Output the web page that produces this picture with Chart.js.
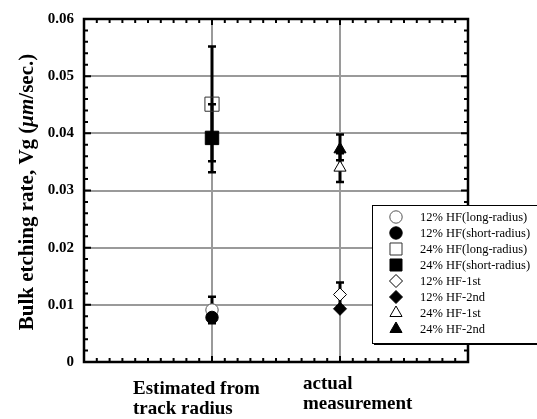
<!DOCTYPE html>
<html>
<head>
<meta charset="utf-8">
<script src="https://cdn.jsdelivr.net/npm/chart.js@4/dist/chart.umd.min.js"></script>
<style>
html,body{margin:0;padding:0;background:#fff;}
#wrap{width:537px;height:419px;position:relative;}
</style>
</head>
<body>
<div id="wrap"><canvas id="c" width="537" height="419"></canvas></div>
<script>
// ---- data ----
const categoryLabels = [['Estimated from', 'track radius'], ['actual', 'measurement']];
const categoryPositions = [1, 2];
const seriesLabels = [
  '12% HF(long-radius)', '12% HF(short-radius)', '24% HF(long-radius)', '24% HF(short-radius)',
  '12% HF-1st', '12% HF-2nd', '24% HF-1st', '24% HF-2nd'
];
// values per category [estimated, actual]
const hf12LongRadius  = [0.0091, null];
const hf12ShortRadius = [0.0078, null];
const hf24LongRadius  = [0.0451, null];
const hf24ShortRadius = [0.0392, null];
const hf12First  = [null, 0.0118];
const hf12Second = [null, 0.0093];
const hf24First  = [null, 0.0340];
const hf24Second = [null, 0.0372];
const seriesValues = [hf12LongRadius, hf12ShortRadius, hf24LongRadius, hf24ShortRadius,
                      hf12First, hf12Second, hf24First, hf24Second];
const errorPlus  = [0.0023, 0, 0.0101, 0.0059, 0.0021, 0, 0.0025, 0.0026];
const errorMinus = [0.0023, 0, 0.0100, 0.0060, 0.0021, 0, 0.0025, 0.0019];
const yTickLabels = ['0', '0.01', '0.02', '0.03', '0.04', '0.05', '0.06'];
const yAxisTitle = ['Bulk etching rate, Vg (', 'μm', '/sec.)'];

// ---- styles ----
const SERIF = "'Liberation Serif','Times New Roman',serif";
const markerStyles = [
  {style: 'circle', fill: '#fff', stroke: '#555', r: 6.2, order: 1},
  {style: 'circle', fill: '#000', stroke: '#000', r: 6.2, order: 0},
  {style: 'rect', fill: 'rgba(0,0,0,0)', stroke: '#333', r: 10, order: 0},
  {style: 'rect', fill: '#000', stroke: '#000', r: 9.5, order: 0},
  {style: 'rectRot', fill: '#fff', stroke: '#000', r: 6.5, order: 0},
  {style: 'rectRot', fill: '#000', stroke: '#000', r: 6.5, order: 0},
  {style: 'triangle', fill: '#fff', stroke: '#000', r: 7, order: 0},
  {style: 'triangle', fill: '#000', stroke: '#000', r: 7, order: 0}
];

const datasets = seriesLabels.map((label, s) => {
  const pts = [], ep = [], em = [];
  categoryPositions.forEach((x, i) => {
    const v = seriesValues[s][i];
    if (v !== null) { pts.push({x: x, y: v}); ep.push(errorPlus[s]); em.push(errorMinus[s]); }
  });
  const st = markerStyles[s];
  return {
    label: label, data: pts, errPlus: ep, errMinus: em,
    pointStyle: st.style, pointRadius: st.r, pointHoverRadius: st.r,
    backgroundColor: st.fill, borderColor: st.stroke, borderWidth: 1,
    showLine: false, order: st.order
  };
});

const isInner = (v, max) => v > 1e-9 && v < max - 1e-9;

const errorBarPlugin = {
  id: 'errorBars',
  beforeDatasetsDraw(chart) {
    const ctx = chart.ctx, ys = chart.scales.y, xs = chart.scales.x;
    ctx.save();
    ctx.strokeStyle = '#000';
    chart.data.datasets.forEach((ds) => {
      ds.data.forEach((p, j) => {
        const up = ds.errPlus[j], dn = ds.errMinus[j];
        if (!up && !dn) return;
        const px = xs.getPixelForValue(p.x);
        const y1 = ys.getPixelForValue(p.y + up), y2 = ys.getPixelForValue(p.y - dn);
        ctx.lineWidth = 3;
        ctx.beginPath(); ctx.moveTo(px, y1); ctx.lineTo(px, y2); ctx.stroke();
        ctx.lineWidth = 2.5;
        ctx.beginPath();
        ctx.moveTo(px - 4, y1); ctx.lineTo(px + 4, y1);
        ctx.moveTo(px - 4, y2); ctx.lineTo(px + 4, y2);
        ctx.stroke();
      });
    });
    ctx.restore();
  }
};

const framePlugin = {
  id: 'frame',
  afterDraw(chart) {
    const ctx = chart.ctx, a = chart.chartArea, xs = chart.scales.x, ys = chart.scales.y;
    ctx.save();
    ctx.strokeStyle = '#000';
    // minor/major inward ticks
    ctx.lineWidth = 2;
    ctx.beginPath();
    for (let i = 0; i <= 30; i++) {
      const px = xs.getPixelForValue(i * 0.1);
      const len = (i % 10 === 0) ? 6 : 4;
      ctx.moveTo(px, a.top); ctx.lineTo(px, a.top + len);
      ctx.moveTo(px, a.bottom); ctx.lineTo(px, a.bottom - len);
    }
    for (let i = 0; i <= 30; i++) {
      const py = ys.getPixelForValue(i * 0.002);
      const len = (i % 5 === 0) ? 7 : 4;
      ctx.moveTo(a.left, py); ctx.lineTo(a.left + len, py);
      ctx.moveTo(a.right, py); ctx.lineTo(a.right - len, py);
    }
    ctx.stroke();
    // frame
    ctx.lineWidth = 2.5;
    ctx.strokeRect(a.left, a.top, a.right - a.left, a.bottom - a.top);

    // y axis title with italic μm
    ctx.fillStyle = '#000';
    const fB = 'bold 21px ' + SERIF, fI = 'italic bold 21px ' + SERIF;
    const fonts = [fB, fI, fB];
    let widths = yAxisTitle.map((t, k) => { ctx.font = fonts[k]; return ctx.measureText(t).width; });
    const total = widths.reduce((p, q) => p + q, 0);
    ctx.translate(33, 192);
    ctx.rotate(-Math.PI / 2);
    ctx.textBaseline = 'alphabetic';
    ctx.textAlign = 'left';
    let cx = -total / 2;
    yAxisTitle.forEach((t, k) => { ctx.font = fonts[k]; ctx.fillText(t, cx, 0); cx += widths[k]; });
    ctx.setTransform(1, 0, 0, 1, 0, 0);

    // category labels
    ctx.font = 'bold 19px ' + SERIF;
    ctx.textAlign = 'left';
    const labelOffsets = [{dx: -79, y: 394}, {dx: -37, y: 389}];
    categoryLabels.forEach((lines, i) => {
      const px = xs.getPixelForValue(categoryPositions[i]);
      lines.forEach((ln, k) => ctx.fillText(ln, px + labelOffsets[i].dx, labelOffsets[i].y + k * 20));
    });

    // legend box
    const L = 372, T = 205, R = 545, B = 343;
    ctx.fillStyle = '#000';
    ctx.fillRect(L + 2, T + 2, R - L, B - T);
    ctx.fillStyle = '#fff';
    ctx.fillRect(L, T, R - L, B - T);
    ctx.lineWidth = 1;
    ctx.strokeStyle = '#000';
    ctx.strokeRect(L + 0.5, T + 0.5, R - L, B - T);
    seriesLabels.forEach((lab, i) => {
      const y = 217 + i * 16;
      const st = markerStyles[i];
      ctx.fillStyle = st.fill === 'rgba(0,0,0,0)' ? '#fff' : st.fill;
      ctx.strokeStyle = st.stroke;
      ctx.lineWidth = 1;
      Chart.helpers.drawPoint(ctx, {pointStyle: st.style, radius: Math.min(st.r, 8.5), rotation: 0, borderWidth: 1}, 396, y);
      ctx.fillStyle = '#000';
      ctx.font = '12.5px ' + SERIF;
      ctx.textBaseline = 'middle';
      ctx.fillText(lab, 420, y + 1);
    });
    ctx.restore();
  }
};

new Chart(document.getElementById('c'), {
  type: 'scatter',
  data: {datasets: datasets},
  options: {
    responsive: false,
    animation: false,
    devicePixelRatio: 1,
    layout: {padding: {left: 0, top: 12, right: 69, bottom: 0}},
    plugins: {legend: {display: false}, tooltip: {enabled: false}},
    scales: {
      x: {
        type: 'linear', min: 0, max: 3,
        ticks: {stepSize: 1, display: false},
        grid: {drawTicks: false, lineWidth: 2, color: (c) => isInner(c.tick.value, 3) ? '#9a9a9a' : 'rgba(0,0,0,0)'},
        border: {display: false},
        afterFit(s) { s.height = 57; }
      },
      y: {
        type: 'linear', min: 0, max: 0.06,
        ticks: {
          stepSize: 0.01, padding: 10, color: '#000',
          font: {family: SERIF, size: 15, weight: 'bold'},
          callback: (v) => yTickLabels[Math.round(v * 100)]
        },
        grid: {drawTicks: false, lineWidth: 2, color: (c) => isInner(c.tick.value, 0.06) ? '#9a9a9a' : 'rgba(0,0,0,0)'},
        border: {display: false},
        afterFit(s) { s.width = 84; }
      }
    }
  },
  plugins: [errorBarPlugin, framePlugin]
});
</script>
</body>
</html>
